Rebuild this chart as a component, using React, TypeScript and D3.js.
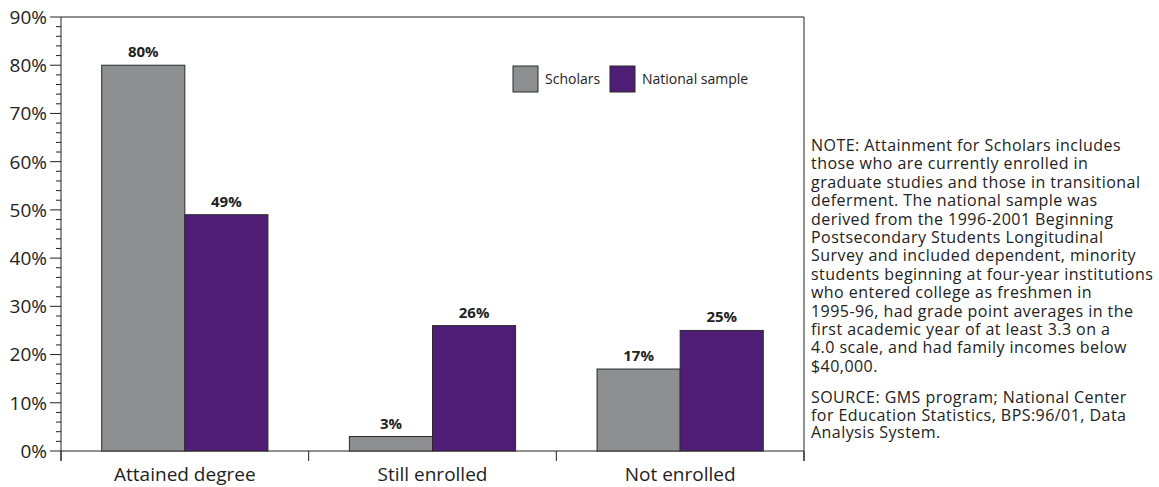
import React from "react";
import * as d3 from "d3";

const categories = ["Attained degree", "Still enrolled", "Not enrolled"];
const seriesNames = ["Scholars", "National sample"];
const scholars = [80, 3, 17];
const nationalSample = [49, 26, 25];
const yTicks = [0, 10, 20, 30, 40, 50, 60, 70, 80, 90];
const noteLines = [
  "NOTE: Attainment for Scholars includes",
  "those who are currently enrolled in",
  "graduate studies and those in transitional",
  "deferment. The national sample was",
  "derived from the 1996-2001 Beginning",
  "Postsecondary Students Longitudinal",
  "Survey and included dependent, minority",
  "students beginning at four-year institutions",
  "who entered college as freshmen in",
  "1995-96, had grade point averages in the",
  "first academic year of at least 3.3 on a",
  "4.0 scale, and had family incomes below",
  "$40,000.",
];
const sourceLines = [
  "SOURCE: GMS program; National Center",
  "for Education Statistics, BPS:96/01, Data",
  "Analysis System.",
];

const W = 1159;
const H = 487;
const FONT = "'Open Sans', 'Noto Sans', sans-serif";
const colors = ["#8e8f91", "#4f1c76"];

export default function App() {
  const left = 61;
  const right = 804;
  const top = 17;
  const bottom = 451;

  const x = d3.scaleBand<string>().domain(categories).range([left, right]).paddingInner(0).paddingOuter(0);
  const xi = d3
    .scaleBand<string>()
    .domain(seriesNames)
    .range([0, x.bandwidth()])
    .paddingInner(0)
    .paddingOuter(0.49);
  const y = d3.scaleLinear().domain([0, 90]).range([bottom, top]);
  const minorTicks = d3.range(0, 91, 2).filter((v) => v % 10 !== 0);
  const values = [scholars, nationalSample];
  const sepTicks = [left, ...categories.map((c) => (x(c) as number) + x.bandwidth())];

  return (
    <svg
      width={W}
      height={H}
      style={{ position: "absolute", left: 0, top: 0, background: "#fff" }}
      fontFamily={FONT}
    >
      {/* frame */}
      <line x1={left} x2={right} y1={top} y2={top} stroke="#222" strokeWidth={1} />
      <line x1={right} x2={right} y1={top} y2={bottom + 10} stroke="#222" strokeWidth={1} />
      <line x1={left} x2={left} y1={top} y2={bottom + 10} stroke="#222" strokeWidth={1} />
      <line x1={left} x2={right} y1={bottom} y2={bottom} stroke="#222" strokeWidth={1} />

      {/* y axis ticks */}
      {minorTicks.map((t) => (
        <line key={"m" + t} x1={56} x2={left} y1={y(t)} y2={y(t)} stroke="#222" strokeWidth={1} />
      ))}
      {yTicks.map((t) => (
        <g key={t}>
          <line x1={50} x2={left} y1={y(t)} y2={y(t)} stroke="#222" strokeWidth={1} />
          <text x={47} y={y(t)} dy="0.36em" textAnchor="end" fontSize={19} fill="#222">
            {t}%
          </text>
        </g>
      ))}

      {/* category separators */}
      {sepTicks.map((sx, i) => (
        <line key={"s" + i} x1={sx} x2={sx} y1={bottom} y2={bottom + 10} stroke="#222" strokeWidth={1} />
      ))}

      {/* bars */}
      {categories.map((c, ci) =>
        seriesNames.map((s, si) => {
          const v = values[si][ci];
          const bx = (x(c) as number) + (xi(s) as number);
          return (
            <g key={c + s}>
              <rect
                x={bx}
                y={y(v)}
                width={xi.bandwidth()}
                height={bottom - y(v)}
                fill={colors[si]}
                stroke="#2a2a2a"
                strokeWidth={1}
              />
              <text
                x={bx + xi.bandwidth() / 2}
                y={y(v) - 8}
                textAnchor="middle"
                fontSize={15}
                fontWeight="bold"
                fill="#222"
              >
                {v}%
              </text>
            </g>
          );
        })
      )}

      {/* category labels */}
      {categories.map((c) => (
        <text
          key={c}
          x={(x(c) as number) + x.bandwidth() / 2}
          y={481}
          textAnchor="middle"
          fontSize={19}
          fill="#222"
        >
          {c}
        </text>
      ))}

      {/* legend */}
      {seriesNames.map((s, i) => {
        const lx = [513, 610][i];
        return (
          <g key={s}>
            <rect x={lx} y={66} width={25} height={26} fill={colors[i]} stroke="#2a2a2a" strokeWidth={1} />
            <text x={lx + 32} y={79} dy="0.36em" fontSize={14} fill="#222">
              {s}
            </text>
          </g>
        );
      })}

      {/* notes */}
      <text fontSize={16} letterSpacing={0.45} fill="#222">
        {noteLines.map((l, i) => (
          <tspan key={i} x={811} y={151 + i * 18.4}>
            {l}
          </tspan>
        ))}
      </text>
      <text fontSize={16} letterSpacing={0.45} fill="#222">
        {sourceLines.map((l, i) => (
          <tspan key={i} x={811} y={403 + i * 17.5}>
            {l}
          </tspan>
        ))}
      </text>
    </svg>
  );
}
